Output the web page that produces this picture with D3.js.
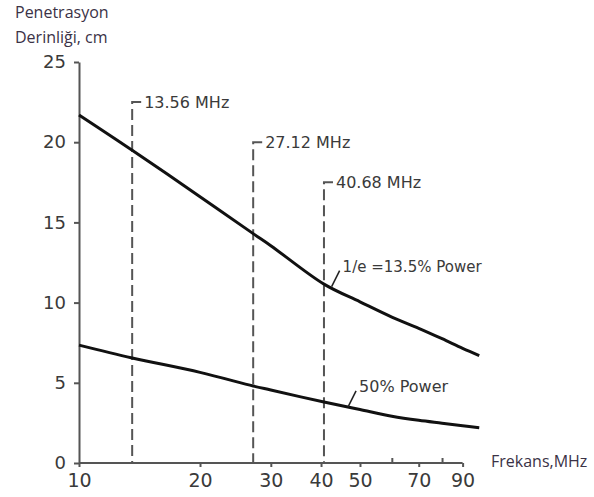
<!DOCTYPE html>
<html>
<head>
<meta charset="utf-8">
<script src="https://cdn.jsdelivr.net/npm/d3@7"></script>
<style>
	body { margin: 0; background: #fff; }
	.tick text { font-family: "DejaVu Sans", sans-serif; fill: #3a3a3a; }
</style>
</head>
<body>
<script>

// frequency (MHz) and penetration depth (cm)
var freqs = [10, 13.56, 20, 27.12, 30, 40.68, 50, 60, 70, 80, 90, 99];
var depthE = [21.7, 19.5, 16.6, 14.3, 13.55, 11.15, 10.05, 9.1, 8.4, 7.75, 7.15, 6.7];
var depthHalf = [7.35, 6.55, 5.65, 4.8, 4.55, 3.8, 3.33, 2.92, 2.66, 2.48, 2.32, 2.2];

// ISM frequencies marked with dashed lines
var ismFreqs = [13.56, 27.12, 40.68];
var ismLabels = ["13.56 MHz", "27.12 MHz", "40.68 MHz"];

// axis ticks
var xTicks = [10, 20, 30, 40, 50, 60, 70, 80, 90];
var xLabeled = [10, 20, 30, 40, 50, 70, 90];
var yTicks = [0, 5, 10, 15, 20, 25];

var margin = {top: 62, right: 113, bottom: 34, left: 79},
		width = 594 - margin.left - margin.right,
		height = 497 - margin.top - margin.bottom;

var svg = d3.select("body").append("svg")
	.attr("width", 594)
	.attr("height", 497);

var g = svg.append("g")
	.attr("transform", "translate(" + margin.left + "," + margin.top + ")");

var x = d3.scaleLog().domain([10, 100]).range([0, 402]);
var y = d3.scaleLinear().domain([0, 25]).range([401, 0]);

// y axis
var yAxis = g.append("g")
	.call(d3.axisLeft(y).tickValues(yTicks).tickSize(5).tickSizeOuter(0).tickPadding(8));
yAxis.select(".domain").attr("stroke", "#555").attr("stroke-width", 2);
yAxis.selectAll(".tick line").attr("stroke", "#555").attr("stroke-width", 2);
yAxis.selectAll(".tick text").attr("font-size", 18);

// x axis
var xAxis = g.append("g")
	.attr("transform", "translate(0," + height + ")")
	.call(d3.axisBottom(x).tickValues(xTicks).tickSize(4).tickPadding(7)
		.tickFormat(function(d) { return xLabeled.indexOf(d) >= 0 ? d : ""; }));
xAxis.select(".domain").remove();
xAxis.append("line")
	.attr("x1", x(10)).attr("x2", x(90))
	.attr("stroke", "#555").attr("stroke-width", 2);
xAxis.selectAll(".tick line")
	.attr("stroke", "#555").attr("stroke-width", 2)
	.attr("y2", function(d) { return xLabeled.indexOf(d) >= 0 ? 4 : -5; });
xAxis.selectAll(".tick text").attr("font-size", 19);

// dashed ISM lines with bracket labels
ismFreqs.forEach(function(f, i) {
	var top = y(22.5 - 2.5 * i);
	g.append("path")
		.attr("d", "M" + (x(f) + 9) + "," + top + "H" + x(f) + "V" + height)
		.attr("fill", "none")
		.attr("stroke", "#555")
		.attr("stroke-width", 2)
		.attr("stroke-dasharray", "11,5");
	g.append("text")
		.attr("x", x(f) + 12)
		.attr("y", top + 6)
		.attr("font-family", "DejaVu Sans, sans-serif")
		.attr("font-size", 16)
		.attr("fill", "#3a3a3a")
		.text(ismLabels[i]);
});

// curves
var line = d3.line()
	.x(function(d) { return x(d[0]); })
	.y(function(d) { return y(d[1]); })
	.curve(d3.curveCatmullRom.alpha(0.5));

[depthE, depthHalf].forEach(function(vals) {
	g.append("path")
		.datum(d3.zip(freqs, vals))
		.attr("d", line)
		.attr("fill", "none")
		.attr("stroke", "#111")
		.attr("stroke-width", 3);
});

// curve labels with leaders
var notes = [{f: 42.5, v: 11.0, text: "1/e =13.5% Power", size: 15},
			 {f: 46.7, v: 3.5, text: "50% Power", size: 16}];
notes.forEach(function(n) {
	var px = x(n.f), py = y(n.v);
	g.append("line")
		.attr("x1", px).attr("y1", py)
		.attr("x2", px + 8).attr("y2", py - 16)
		.attr("stroke", "#222").attr("stroke-width", 1.5);
	g.append("text")
		.attr("x", px + 11)
		.attr("y", py - 15)
		.attr("font-family", "DejaVu Sans, sans-serif")
		.attr("font-size", n.size)
		.attr("fill", "#3a3a3a")
		.text(n.text);
});

// axis titles
var titles = [{x: 15, y: 18, text: "Penetrasyon"},
			  {x: 15, y: 43, text: "Derinliği, cm"},
			  {x: 491, y: 467, text: "Frekans,MHz"}];
svg.selectAll(".title")
	.data(titles)
	.enter().append("text")
		.attr("class", "title")
		.attr("x", function(d) { return d.x; })
		.attr("y", function(d) { return d.y; })
		.attr("font-family", "Open Sans, sans-serif")
		.attr("font-size", 16)
		.attr("fill", "#3b3246")
		.text(function(d) { return d.text; });

</script>
</body>
</html>
